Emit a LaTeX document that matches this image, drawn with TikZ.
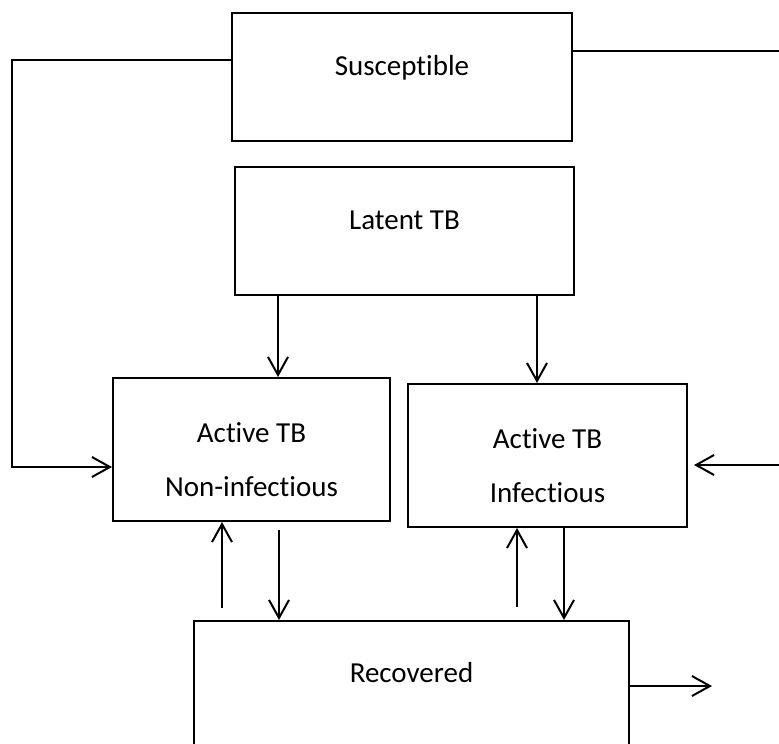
\documentclass[tikz,border=0pt]{standalone}
\usepackage{fontspec}
\setmainfont{Carlito}[Ligatures=NoCommon]
\usetikzlibrary{arrows.meta}

\begin{document}
\begin{tikzpicture}[
	% pixel grid, y pointing down:
	x=1pt, y=-1pt,
	font=\fontsize{29pt}{54pt}\selectfont,
	box/.style={draw,line width=2pt,inner sep=0pt,align=center},
	onebox/.style={box,text height=20pt,text depth=23pt},
	twobox/.style={box,text height=94pt,text depth=0pt},
	flow/.style={line width=2pt},
	arr/.style={flow,-{Straight Barb[length=18pt,width=20pt]}}
	]
	\useasboundingbox (0,0) rectangle (779,744);
	\clip (0,0) rectangle (779,744);
	
	%
	% Compartments
	%
	\node[onebox,minimum width=340pt,minimum height=128pt] (sus) at (402,77) {Susceptible};
	\node[onebox,minimum width=339pt,minimum height=128pt] (lat) at (404.5,231) {Latent TB};
	\node[twobox,minimum width=277pt,minimum height=143pt] (non) at (251.5,449.5) {Active TB\\Non-infectious};
	\node[twobox,minimum width=279pt,minimum height=143pt] (inf) at (547.5,455.5) {Active TB\\Infectious};
	\node[onebox,minimum width=435pt,minimum height=126pt] (rec) at (411.5,684) {Recovered};
	
	% corners and loose ends
	\coordinate (leftTop) at (12,60);
	\coordinate (leftBot) at (12,467);
	\coordinate (rightTop) at (779,51);
	\coordinate (rightBot) at (779,465);
	\coordinate (recOut) at (712,686);
	
	%
	% Flows
	%
	\draw[arr] (sus.west |- leftTop) -- (leftTop) -- (leftBot) -- (non.west |- leftBot);
	\draw[flow] (sus.east |- rightTop) -- (rightTop);
	\draw[arr,shorten >=6pt] (rightBot) -- (inf.east |- rightBot);
	
	\draw[arr] (lat.south -| 278,0) -- (non.north -| 278,0);
	\draw[arr] (lat.south -| 537,0) -- (inf.north -| 537,0);
	
	\draw[arr,shorten <=12pt] (rec.north -| 222,0) -- (non.south -| 222,0);
	\draw[arr,shorten <=8pt] (non.south -| 279,0) -- (rec.north -| 279,0);
	\draw[arr,shorten <=13pt] (rec.north -| 517,0) -- (inf.south -| 517,0);
	\draw[arr] (inf.south -| 564,0) -- (rec.north -| 564,0);
	
	\draw[arr] (rec.east |- recOut) -- (recOut);
\end{tikzpicture}
\end{document}
